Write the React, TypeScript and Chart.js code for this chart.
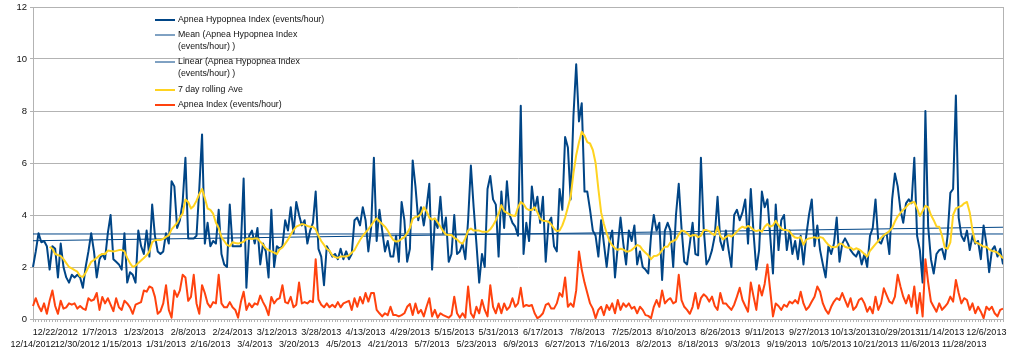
import React, { useEffect, useRef } from 'react';
import { Chart, registerables } from 'chart.js';

Chart.register(...registerables);

// ---------- data ----------
const FIRST_DAY = { year: 2012, month: 12, day: 14 };
const MISSING_DAYS = [
  '6/3/2013', '6/20/2013', '6/23/2013', '7/1/2013', '7/2/2013', '7/3/2013', '7/20/2013',
  '11/18/2013', '11/19/2013', '11/20/2013', '11/21/2013', '11/22/2013', '11/23/2013',
];
const TICK_EVERY = 8;

const AHI = [
  2.0, 2.6, 3.3, 2.95, 3.0, 2.8, 1.9, 2.8, 2.7, 1.6,
  2.9, 2.0, 1.6, 1.4, 1.7, 1.6, 1.7, 1.6, 1.2, 2.0,
  2.6, 3.3, 2.6, 1.6, 2.3, 2.5, 2.3, 3.3, 4.0, 2.3,
  2.2, 2.1, 1.9, 3.3, 1.4, 1.8, 1.7, 1.4, 3.4, 2.8,
  2.5, 3.4, 2.4, 4.4, 3.2, 2.6, 2.5, 2.6, 3.3, 2.9,
  5.3, 5.1, 3.5, 3.8, 4.5, 6.2, 3.1, 3.1, 3.1, 3.2,
  5.0, 7.1, 2.9, 3.7, 2.8, 3.0, 2.9, 4.2, 2.5, 2.1,
  2.0, 4.4, 2.8, 2.8, 2.8, 2.8, 5.4, 1.2, 3.2, 3.4,
  2.9, 3.5, 2.1, 2.9, 2.6, 1.6, 4.2, 2.0, 2.8, 2.7,
  2.8, 3.8, 3.4, 4.3, 3.3, 4.5, 4.0, 3.6, 3.8, 2.9,
  3.4, 3.7, 4.9, 2.7, 2.4, 1.3, 2.8, 2.6, 2.4, 2.5,
  2.3, 2.7, 2.3, 2.6, 2.3, 2.5, 3.8, 3.9, 3.6, 4.3,
  3.8, 2.6, 3.5, 6.2, 3.0, 4.2, 3.4, 2.6, 3.0, 2.4,
  2.4, 3.2, 2.2, 4.5, 3.8, 2.2, 2.7, 6.1, 5.1, 3.8,
  4.3, 3.6, 4.3, 5.2, 1.9, 3.8, 3.5, 4.7, 3.3, 3.9,
  2.2, 2.5, 4.0, 2.5, 2.6, 2.9, 2.3, 3.8, 5.9, 4.3,
  2.9, 1.4, 2.5, 2.0, 5.0, 5.5, 4.6, 4.4, 2.4, 4.9,
  3.5, 5.3, 4.0, 3.7, 3.55, 3.2, 8.2, 2.5, 3.7, 3.0,
  5.1, 4.2, 4.7, 3.7, 4.7, 2.2, 3.7, 3.9, 2.8, 2.6,
  5.0, 4.2, 7.0, 6.6, 4.6, 7.8, 9.8, 7.6, 8.3, 4.9,
  4.9, 4.2, 3.4, 3.2, 2.4, 3.8, 2.9, 2.0, 3.0, 3.4,
  1.6, 2.8, 3.9, 2.9, 2.1, 3.4, 3.0, 3.6, 2.1, 2.6,
  2.0, 1.9, 1.75, 3.2, 4.0, 3.4, 3.7, 1.5, 3.4, 3.7,
  3.4, 2.0, 4.0, 5.2, 3.5, 2.2, 2.1, 2.9, 3.7, 2.5,
  2.45, 6.2, 3.5, 2.1, 2.3, 2.65, 3.2, 4.7, 3.0, 2.65,
  3.4, 2.65, 2.0, 4.0, 4.2, 3.8, 4.1, 4.6, 2.9, 5.0,
  3.3, 1.9, 2.65, 4.9, 4.3, 4.6, 3.2, 1.75, 4.4, 2.65,
  3.8, 4.0, 2.65, 3.4, 2.5, 3.0, 2.3, 3.2, 2.1, 3.2,
  4.0, 4.6, 2.8, 3.6, 2.65, 2.1, 1.6, 2.8, 2.5, 2.9,
  3.9, 2.2, 2.9, 3.1, 2.9, 2.65, 2.5, 2.4, 2.65, 2.1,
  2.5, 2.0, 3.2, 3.5, 4.6, 3.0, 2.9, 3.2, 3.3, 2.5,
  4.6, 5.6, 5.1, 4.2, 3.7, 4.45, 4.6, 4.45, 6.2, 3.2,
  2.65, 1.4, 8.0, 3.55, 2.3, 1.75, 2.5, 2.65, 2.7, 2.3,
  3.2, 4.85, 5.0, 8.6, 3.9, 3.2, 3.0, 3.4, 2.65, 3.2,
  2.9, 3.0, 2.3, 3.6, 2.9, 1.8, 2.65, 2.8, 2.4, 2.7, 2.1,
];

const ROLLING_7 = [
  null, null, null, null, null, null, 2.78, 2.7, 2.5, 2.46,
  2.42, 2.3, 2.15, 2.0, 1.95, 1.88, 1.82, 1.65, 1.62, 1.78,
  2.0, 2.2, 2.27, 2.35, 2.45, 2.5, 2.5, 2.63, 2.62, 2.6,
  2.62, 2.65, 2.65, 2.6, 2.35, 2.15, 2.0, 2.05, 2.15, 2.25,
  2.35, 2.45, 2.6, 2.95, 3.03, 3.04, 3.04, 3.08, 3.16, 3.22,
  3.45, 3.57, 3.7, 3.9, 4.05, 4.6, 4.5, 4.25, 4.35, 4.55,
  4.8, 5.0, 4.65, 4.25, 4.2, 4.05, 3.7, 3.5, 3.15, 3.0,
  2.85, 2.8, 2.95, 2.92, 2.9, 2.93, 2.97, 3.08, 3.1, 3.08,
  3.1, 3.1, 2.97, 2.86, 2.72, 2.65, 2.6, 2.55, 2.5, 2.68,
  2.75, 2.9, 3.05, 3.25, 3.42, 3.55, 3.6, 3.65, 3.63, 3.58,
  3.55, 3.55, 3.45, 3.2, 3.0, 2.85, 2.7, 2.62, 2.45, 2.38,
  2.35, 2.4, 2.4, 2.4, 2.45, 2.55, 2.65, 2.85, 3.04, 3.2,
  3.33, 3.45, 3.6, 3.75, 3.87, 3.75, 3.65, 3.55, 3.4, 3.2,
  3.04, 2.98, 3.0, 3.08, 3.15, 3.3, 3.5, 3.85, 3.93, 3.94,
  4.05, 4.3, 4.15, 3.9, 3.82, 3.87, 3.72, 3.55, 3.38, 3.25,
  3.23, 3.23, 3.12, 3.06, 2.95, 2.9, 3.1, 3.4, 3.48, 3.4,
  3.4, 3.4, 3.36, 3.36, 3.36, 3.45, 3.6, 3.8, 4.05, 4.38,
  4.15, 4.08, 4.02, 3.98, 3.96, 4.3, 4.5, 4.42, 4.25, 4.19,
  4.19, 4.3, 4.1, 3.85, 3.78, 3.77, 3.74, 3.64, 3.48, 3.38,
  3.4, 3.6, 3.9, 4.3, 4.7, 5.6, 6.3, 6.8, 7.2, 7.05,
  6.8, 6.75, 6.5, 6.0, 5.0, 4.1, 3.65, 3.3, 3.0, 2.83,
  2.72, 2.66, 2.7, 2.67, 2.6, 2.6, 2.65, 2.75, 2.85, 2.8,
  2.65, 2.55, 2.45, 2.3, 2.42, 2.43, 2.5, 2.65, 2.78, 2.78,
  2.95, 3.0, 3.05, 3.25, 3.4, 3.38, 3.3, 3.18, 3.22, 3.23,
  3.15, 3.2, 3.42, 3.42, 3.38, 3.28, 3.23, 3.55, 3.2, 3.06,
  3.15, 3.22, 3.17, 3.25, 3.36, 3.48, 3.55, 3.5, 3.58, 3.52,
  3.42, 3.38, 3.42, 3.36, 3.55, 3.65, 3.55, 3.6, 3.78, 3.6,
  3.48, 3.42, 3.42, 3.37, 3.22, 3.13, 3.12, 3.15, 2.86, 3.05,
  3.1, 3.12, 3.15, 3.1, 3.15, 3.12, 2.98, 2.85, 2.78, 2.76,
  2.78, 2.9, 2.88, 2.78, 2.74, 2.75, 2.66, 2.72, 2.68, 2.6,
  2.5, 2.4, 2.62, 2.75, 2.88, 3.0, 3.12, 3.22, 3.3, 3.38,
  3.5, 3.75, 3.95, 4.08, 4.2, 4.3, 4.42, 4.48, 4.5, 4.26,
  3.96, 4.15, 4.35, 4.3, 4.0, 3.8, 3.56, 3.55, 3.2, 2.75,
  2.7, 2.95, 4.0, 4.25, 4.3, 4.35, 4.45, 4.5, 4.1, 3.4,
  2.95, 2.91, 2.85, 2.78, 2.78, 2.68, 2.62, 2.6, 2.55, 2.45, 2.33,
];

const AI = [
  0.5, 0.8, 0.5, 0.3, 0.6, 0.2, 0.7, 1.1, 0.5, 0.2,
  0.7, 0.4, 0.45, 0.6, 0.55, 0.6, 0.4, 0.5, 0.4, 0.35,
  0.8, 0.7, 0.75, 1.0, 0.35, 0.85, 0.6, 0.8, 0.55, 0.3,
  0.8, 0.45, 0.35, 0.7, 0.6, 0.45, 0.2, 0.55, 0.6, 0.65,
  1.1, 1.05, 1.25, 1.2, 0.85, 0.2, 0.3, 0.6, 1.3, 0.35,
  0.05, 1.1, 0.85, 1.1, 1.7, 1.6, 0.7, 0.85, 1.7, 0.6,
  0.2, 1.3, 1.0, 0.6, 0.45, 0.65, 0.6, 1.7, 0.6, 0.45,
  0.45, 0.65, 0.45, 0.35, 0.05, 0.65, 1.05, 0.35, 0.6, 0.45,
  0.6, 0.55, 0.9, 0.65, 0.45, 0.15, 0.85, 0.6, 0.75, 0.8,
  1.3, 0.65, 0.6, 0.85, 0.45, 0.55, 1.4, 0.6, 0.65, 0.6,
  0.7, 0.65, 2.3, 0.75, 0.55, 0.45, 0.6, 0.45, 0.55, 0.45,
  0.65, 0.45, 0.6, 0.65, 0.7, 0.35, 0.8, 0.47, 0.85, 0.6,
  1.0, 0.67, 1.0, 1.0, 0.35, 0.22, 0.1, 0.22, 0.15, 0.47,
  0.15, 0.15, 0.1, 0.15, 0.22, 0.47, 0.58, 0.15, 0.6, 0.22,
  0.35, 0.1, 0.47, 0.8, 0.1, 0.35, 0.05, 0.22, 0.15, 0.1,
  0.05, 0.15, 0.86, 0.22, 0.05, 0.22, 0.05, 1.25, 0.22, 0.05,
  0.47, 0.22, 0.73, 0.35, 0.1, 1.3, 0.47, 0.22, 0.6, 0.22,
  0.6, 0.35, 0.47, 0.8, 0.47, 0.6, 1.2, 0.47, 0.54, 0.5,
  0.54, 0.22, 0.03, 0.1, 0.22, 0.54, 0.6, 0.4, 0.4, 0.6,
  1.0, 0.86, 1.6, 0.47, 0.6, 0.47, 1.1, 2.6, 1.9, 1.4,
  1.0, 0.6, 0.4, 0.03, 0.35, 0.47, 0.15, 0.54, 0.35, 0.6,
  0.22, 0.73, 0.35, 0.6, 0.47, 0.6, 0.4, 0.47, 0.22, 0.47,
  0.35, 0.15, 0.12, 0.03, 0.47, 0.73, 0.47, 1.1, 0.6, 0.73,
  0.8, 0.6, 0.67, 1.7, 0.73, 0.47, 0.35, 0.2, 0.47, 1.0,
  0.4, 0.8, 0.95, 0.86, 0.67, 0.86, 0.5, 0.35, 1.0, 0.6,
  0.6, 0.47, 0.35, 0.55, 0.86, 1.2, 0.73, 0.5, 0.28, 1.4,
  0.86, 0.35, 1.3, 0.9, 1.35, 2.1, 1.1, 0.1, 0.6, 0.5,
  0.35, 0.55, 0.47, 0.67, 0.6, 0.73, 0.6, 1.05, 0.6, 0.35,
  0.47, 0.67, 0.86, 1.25, 1.05, 0.6, 0.35, 0.2, 0.47, 0.67,
  0.8, 0.73, 1.0, 0.73, 0.47, 0.8, 0.35, 0.47, 0.73, 0.8,
  0.6, 0.28, 0.47, 0.22, 0.86, 0.35, 0.6, 1.18, 0.92, 0.67,
  0.6, 0.86, 1.7, 1.25, 0.86, 0.6, 0.92, 0.47, 1.25, 0.22,
  1.0, 0.1, 2.3, 1.4, 0.67, 0.47, 0.28, 0.6, 0.35, 0.47,
  0.6, 0.86, 0.67, 1.5, 1.0, 0.6, 0.8, 0.73, 0.35, 0.6,
  0.22, 0.47, 0.28, 0.03, 0.47, 0.35, 0.47, 0.22, 0.1, 0.35, 0.4,
];

const MEAN_AHI = 3.27;
const LINEAR_START = 3.01;
const LINEAR_END = 3.53;

const Y_MIN = 0;
const Y_MAX = 12;
const Y_STEP = 2;

const SERIES_NAMES = [
  ['Apnea Hypopnea Index (events/hour)'],
  ['Mean (Apnea Hypopnea Index', '(events/hour) )'],
  ['Linear (Apnea Hypopnea Index', '(events/hour) )'],
  ['7 day rolling Ave'],
  ['Apnea Index (events/hour)'],
];

// ---------- style ----------
const BLUE = '#004586';
const YELLOW = '#ffd320';
const RED = '#ff420e';
const GRID = '#b3b3b3';
const FONT = '"Liberation Sans", Arial, sans-serif';

function buildCategories(count: number): string[] {
  const out: string[] = [];
  const d = new Date(Date.UTC(FIRST_DAY.year, FIRST_DAY.month - 1, FIRST_DAY.day));
  while (out.length < count) {
    const s = `${d.getUTCMonth() + 1}/${d.getUTCDate()}/${d.getUTCFullYear()}`;
    if (!MISSING_DAYS.includes(s)) out.push(s);
    d.setUTCDate(d.getUTCDate() + 1);
  }
  return out;
}

const legendPlugin = {
  id: 'inPlotLegend',
  afterDraw(chart: any) {
    const ctx = chart.ctx as CanvasRenderingContext2D;
    const area = chart.chartArea;
    ctx.save();
    // right border of the plot area
    ctx.strokeStyle = GRID;
    ctx.lineWidth = 1;
    ctx.beginPath();
    ctx.moveTo(Math.round(area.right) + 0.5, area.top);
    ctx.lineTo(Math.round(area.right) + 0.5, area.bottom);
    ctx.stroke();

    const styles = [
      { color: BLUE, width: 2 },
      { color: BLUE, width: 1 },
      { color: BLUE, width: 1 },
      { color: YELLOW, width: 2 },
      { color: RED, width: 2 },
    ];
    const rowY = [20, 35, 62, 90, 105];
    const lineX0 = 155;
    const lineX1 = 175;
    const textX = 178;
    const lineGap = 11.3;
    ctx.font = `8.8px ${FONT}`;
    ctx.textBaseline = 'middle';
    ctx.textAlign = 'left';
    SERIES_NAMES.forEach((lines, i) => {
      const y = rowY[i];
      ctx.strokeStyle = styles[i].color;
      ctx.lineWidth = styles[i].width;
      ctx.beginPath();
      ctx.moveTo(lineX0, y);
      ctx.lineTo(lineX1, y);
      ctx.stroke();
      ctx.fillStyle = '#111';
      lines.forEach((t, j) => ctx.fillText(t, textX, y + j * lineGap));
    });
    ctx.restore();
  },
};

export default function App() {
  const canvasRef = useRef<HTMLCanvasElement | null>(null);

  useEffect(() => {
    const canvas = canvasRef.current;
    if (!canvas) return;
    const labels = buildCategories(AHI.length);
    const first = labels[0];
    const last = labels[labels.length - 1];

    const chart = new Chart(canvas, {
      type: 'line',
      data: {
        labels,
        datasets: [
          {
            label: SERIES_NAMES[0].join(' '),
            data: AHI,
            borderColor: BLUE,
            backgroundColor: BLUE,
            borderWidth: 2,
            pointRadius: 0,
            tension: 0,
            borderJoinStyle: 'round',
            order: 5,
          },
          {
            label: SERIES_NAMES[1].join(' '),
            data: [
              { x: first, y: MEAN_AHI },
              { x: last, y: MEAN_AHI },
            ] as any,
            borderColor: BLUE,
            borderWidth: 1,
            pointRadius: 0,
            order: 4,
          },
          {
            label: SERIES_NAMES[2].join(' '),
            data: [
              { x: first, y: LINEAR_START },
              { x: last, y: LINEAR_END },
            ] as any,
            borderColor: BLUE,
            borderWidth: 1,
            pointRadius: 0,
            order: 3,
          },
          {
            label: SERIES_NAMES[3].join(' '),
            data: ROLLING_7,
            borderColor: YELLOW,
            backgroundColor: YELLOW,
            borderWidth: 2,
            pointRadius: 0,
            tension: 0,
            borderJoinStyle: 'round',
            order: 2,
          },
          {
            label: SERIES_NAMES[4].join(' '),
            data: AI,
            borderColor: RED,
            backgroundColor: RED,
            borderWidth: 2,
            pointRadius: 0,
            tension: 0,
            borderJoinStyle: 'round',
            order: 1,
          },
        ],
      },
      options: {
        responsive: false,
        animation: false,
        events: [],
        layout: { padding: { left: 0, right: 21, top: 7, bottom: 0 } },
        plugins: {
          legend: { display: false },
          tooltip: { enabled: false },
          title: { display: false },
        },
        scales: {
          x: {
            type: 'category',
            offset: false,
            grid: {
              display: true,
              drawOnChartArea: false,
              drawTicks: true,
              tickLength: 3,
              color: GRID,
            },
            border: { display: true, color: GRID },
            ticks: {
              autoSkip: false,
              maxRotation: 0,
              minRotation: 0,
              padding: 5,
              color: '#111',
              font: { family: FONT, size: 9, lineHeight: 1.3 },
              callback: (_v: any, index: number) => {
                if (index % TICK_EVERY !== 0) return '';
                const k = index / TICK_EVERY;
                const text = labels[index];
                return k % 2 === 0 ? ['', text] : [text, ''];
              },
            },
            afterFit: (scale: any) => {
              scale.height = 34;
              scale.paddingLeft = 0;
              scale.paddingRight = 0;
            },
          },
          y: {
            min: Y_MIN,
            max: Y_MAX,
            grid: {
              display: true,
              drawOnChartArea: true,
              drawTicks: true,
              tickLength: 3,
              color: GRID,
            },
            border: { display: true, color: GRID },
            ticks: {
              stepSize: Y_STEP,
              padding: 3,
              color: '#111',
              font: { family: FONT, size: 9.5 },
            },
            afterFit: (scale: any) => {
              scale.width = 33;
              scale.paddingTop = 0;
              scale.paddingBottom = 0;
            },
          },
        },
      },
      plugins: [legendPlugin],
    });

    return () => chart.destroy();
  }, []);

  return (
    <div style={{ position: 'fixed', left: 0, top: 0, width: 1024, height: 353, background: '#fff' }}>
      <canvas ref={canvasRef} width={1024} height={353} style={{ display: 'block' }} />
    </div>
  );
}
